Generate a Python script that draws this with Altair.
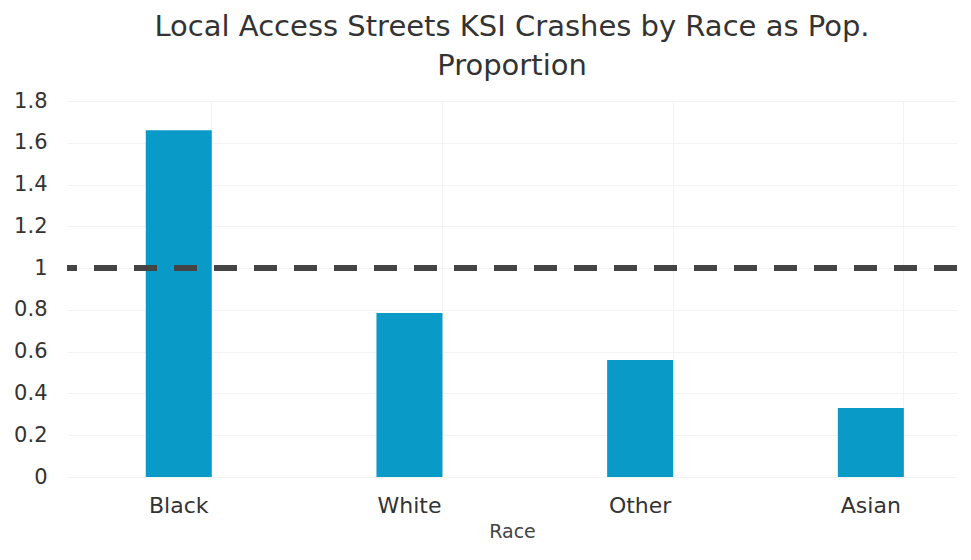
import altair as alt
import pandas as pd

races = ["Black", "White", "Other", "Asian"]
values = [1.66, 0.785, 0.56, 0.33]
reference_level = [1.0]
y_ticks = [0, 0.2, 0.4, 0.6, 0.8, 1.0, 1.2, 1.4, 1.6, 1.8]

FONT = "DejaVu Sans"

df = pd.DataFrame({"Race": races, "Value": values})
ref = pd.DataFrame({"y": reference_level})

bars = alt.Chart(df).mark_bar(color="#0a9ac7", size=66).encode(
    x=alt.X("Race:N", sort=races,
            scale=alt.Scale(paddingInner=0.714, paddingOuter=0.286, align=0.597),
            axis=alt.Axis(title="Race", labelAngle=0, labelFontSize=22,
                          labelColor="#333333", labelPadding=18,
                          titleFontSize=19, titleColor="#444444", titleFontWeight="normal",
                          titlePadding=6, domain=False, ticks=False,
                          grid=True, gridColor="#f3f3f3", bandPosition=1,
                          labelFont=FONT, titleFont=FONT)),
    y=alt.Y("Value:Q", scale=alt.Scale(domain=[0, 1.8], nice=False),
            axis=alt.Axis(title=None, values=y_ticks, format="~g", labelFontSize=21,
                          labelColor="#333333", labelPadding=20, domain=False,
                          ticks=False, grid=True, gridColor="#f3f3f3",
                          labelFont=FONT)),
)

rule = alt.Chart(ref).mark_rule(color="#444444", strokeWidth=6,
                                strokeDash=[23, 17]).encode(y="y:Q")

chart = (bars + rule).properties(
    width=890, height=376,
    padding={"left": 5, "right": 0, "top": 5, "bottom": 0},
    title=alt.TitleParams(
        text=["Local Access Streets KSI Crashes by Race as Pop.", "Proportion"],
        fontSize=29, font=FONT, fontWeight="normal", color="#333333",
        lineHeight=39, offset=9, anchor="middle"),
).configure_view(stroke=None)

chart.save("out.html", embed_options={"renderer": "svg", "actions": False})
